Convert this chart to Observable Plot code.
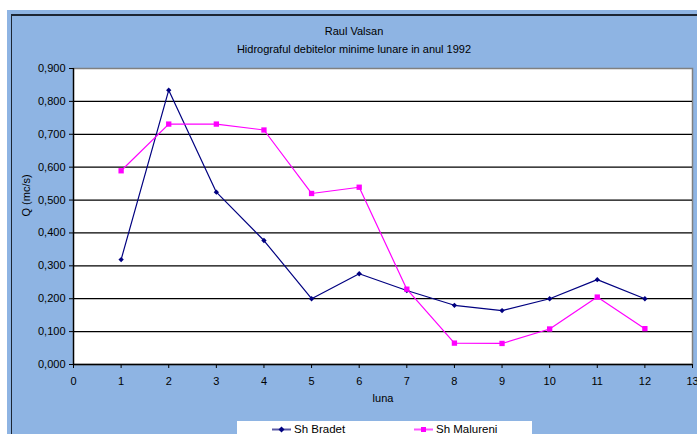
<!DOCTYPE html>
<html>
<head>
<meta charset="utf-8">
<script src="https://cdn.jsdelivr.net/npm/d3@7"></script>
<script src="https://cdn.jsdelivr.net/npm/@observablehq/plot@0.6"></script>
<style>
  body { margin: 0; background: #fff; }
  #page { position: relative; width: 697px; height: 434px; overflow: hidden; background: #fff;
          font-family: "Liberation Sans", Arial, sans-serif; color: #000; }
  .t { position: absolute; left: 0; width: 708px; text-align: center; font-size: 11px; }
</style>
</head>
<body>
<div id="page">
  <div style="position:absolute;left:7px;top:10px;width:700px;height:430px;background:#8eb4e3"></div>
  <div style="position:absolute;left:11px;top:14px;width:700px;height:430px;border-left:1.5px solid #1c2634;border-top:2px solid #1c2634"></div>
  <div class="t" style="top:25px">Raul Valsan</div>
  <div class="t" style="top:43px">Hidrograful debitelor minime lunare in anul 1992</div>
  <div id="chart" style="position:absolute;left:0;top:0"></div>
  <div id="legend" style="position:absolute;left:237px;top:421px;width:295px;height:20px;background:#fff;font-size:11.5px"></div>
</div>
<script>
const months = [1, 2, 3, 4, 5, 6, 7, 8, 9, 10, 11, 12];
const shBradet = [0.319, 0.834, 0.524, 0.377, 0.200, 0.276, 0.225, 0.180, 0.164, 0.200, 0.258, 0.200];
const shMalureni = [0.589, 0.731, 0.731, 0.713, 0.520, 0.539, 0.229, 0.065, 0.064, 0.108, 0.205, 0.109];
const xTicks = [0, 1, 2, 3, 4, 5, 6, 7, 8, 9, 10, 11, 12, 13];
const yTicks = [0, 0.1, 0.2, 0.3, 0.4, 0.5, 0.6, 0.7, 0.8, 0.9];
const seriesNames = ["Sh Bradet", "Sh Malureni"];
const seriesColors = ["#000080", "#ff00ff"];

const bradet = months.map((m, i) => ({ m, v: shBradet[i] }));
const malureni = months.map((m, i) => ({ m, v: shMalureni[i] }));
const fmt = d => d.toFixed(3).replace(".", ",");

const chart = Plot.plot({
  width: 697,
  height: 415,
  marginLeft: 73,
  marginRight: 5,
  marginTop: 68,
  marginBottom: 51,
  style: { background: "transparent", fontFamily: "Liberation Sans, Arial, sans-serif", fontSize: "11px", color: "black", overflow: "visible" },
  x: { domain: [0, 13] },
  y: { domain: [0, 0.9] },
  marks: [
    Plot.frame({ fill: "white", stroke: "#808080", strokeWidth: 1.5 }),
    Plot.ruleY(yTicks.filter(d => d > 0 && d < 0.9), { stroke: "black", strokeWidth: 1.3 }),
    Plot.ruleY([0], { stroke: "black", strokeWidth: 1.3 }),
    Plot.ruleX([0], { stroke: "black", strokeWidth: 1.3 }),
    Plot.axisX({ ticks: xTicks, tickSize: 4, tickPadding: 9, label: null, tickFormat: d => String(d), fontSize: 11 }),
    Plot.axisY({ ticks: yTicks, tickSize: 4, tickPadding: 4, label: null, tickFormat: fmt, fontSize: 11 }),
    Plot.text(["Q (mc/s)"], { frameAnchor: "left", dx: -47, rotate: -90, fontSize: 11 }),
    Plot.text(["luna"], { frameAnchor: "bottom", dy: 37, fontSize: 11 }),
    Plot.line(bradet, { x: "m", y: "v", stroke: seriesColors[0], strokeWidth: 1.2 }),
    Plot.line(malureni, { x: "m", y: "v", stroke: seriesColors[1], strokeWidth: 1.2 }),
    Plot.dot(bradet, { x: "m", y: "v", symbol: "diamond2", r: 2.4, fill: seriesColors[0], stroke: "none" }),
    Plot.dot(malureni, { x: "m", y: "v", symbol: "square", r: 3, fill: seriesColors[1], stroke: "none" })
  ]
});
document.getElementById("chart").appendChild(chart);

// legend
const lg = document.getElementById("legend");
const items = [
  { name: seriesNames[0], color: seriesColors[0], lineColor: "#5a5aa6", x: 35, sym: "diamond" },
  { name: seriesNames[1], color: seriesColors[1], lineColor: "#ff55ff", x: 177, sym: "square" }
];
items.forEach(it => {
  const el = document.createElement("div");
  el.style.cssText = `position:absolute;left:${it.x}px;top:1px;white-space:nowrap;line-height:14px;`;
  const marker = it.sym === "diamond"
    ? `<path d="M9.5,4.5 L12.5,7.5 L9.5,10.5 L6.5,7.5Z" fill="${it.color}"/>`
    : `<rect x="7" y="5" width="5" height="5" fill="${it.color}"/>`;
  el.innerHTML = `<svg width="19" height="14" style="vertical-align:top"><line x1="0" x2="19" y1="7.5" y2="7.5" stroke="${it.lineColor}" stroke-width="2"/>${marker}</svg><span style="margin-left:3px">${it.name}</span>`;
  lg.appendChild(el);
});
</script>
</body>
</html>
